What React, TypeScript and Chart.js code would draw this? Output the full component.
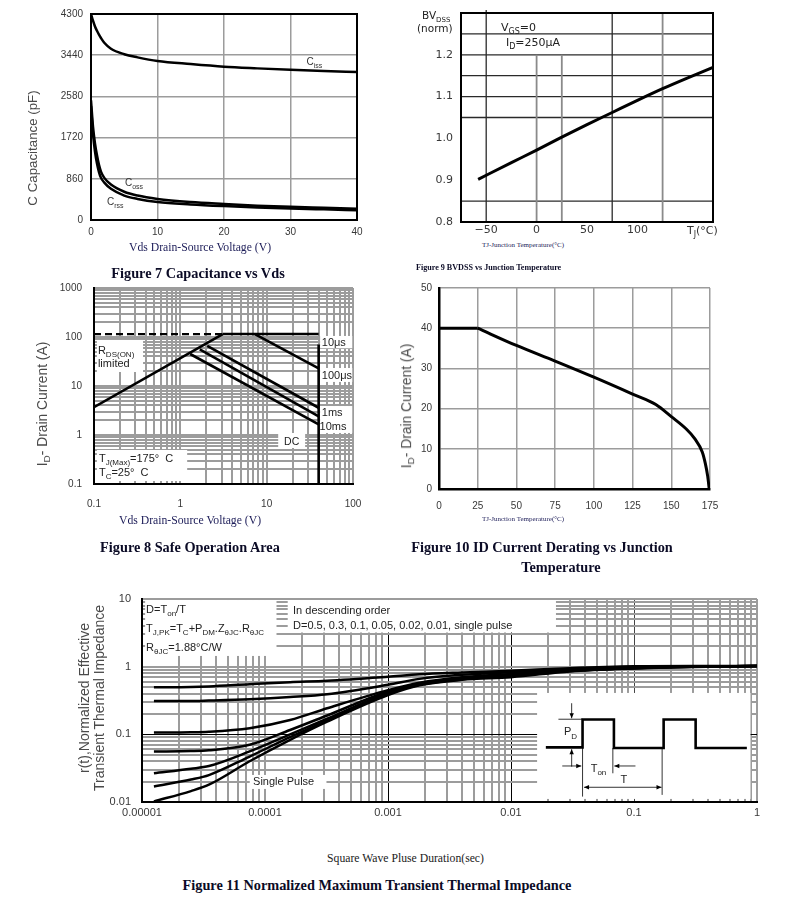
import React, { useEffect, useRef } from 'react';
import { Chart, registerables } from 'chart.js';

Chart.register(...registerables);

// ---------- fonts / colours ----------
const SANS = '"Liberation Sans", Arial, Helvetica, sans-serif';
const DEJAVU = '"DejaVu Sans", Verdana, sans-serif';
const SERIF = '"Liberation Serif", "Times New Roman", Times, serif';
const GRID = '#9c9c9c';
const INK = '#222222';
const TICK = '#383838';
const NAVY = '#1c1c58';

// ---------- Figure 7 : Capacitance vs Vds ----------
const capVds = [0, 0.3, 0.6, 0.9, 1.2, 1.5, 2, 3, 5, 7, 10, 15, 20, 25, 30, 35, 40];
const cissPf = [4300, 4160, 4040, 3950, 3870, 3800, 3700, 3575, 3460, 3395, 3320, 3255, 3200, 3165, 3135, 3110, 3090];
const cossPf = [2500, 1950, 1600, 1350, 1150, 1010, 880, 740, 590, 510, 440, 375, 335, 300, 275, 255, 235];
const crssPf = [2380, 1800, 1430, 1180, 1000, 880, 780, 650, 510, 440, 375, 325, 290, 262, 240, 222, 205];
const capXTicks = [0, 10, 20, 30, 40];
const capYTicks = [0, 860, 1720, 2580, 3440, 4300];

// ---------- Figure 9 : BVDSS vs Junction Temperature ----------
const bvTj = [-58, -25, 0, 25, 50, 75, 100, 125, 150, 175];
const bvNorm = [0.902, 0.942, 0.972, 1.003, 1.033, 1.062, 1.091, 1.119, 1.145, 1.17];
const bvXTicks = [-50, 0, 50, 100];
const bvYTicks = [0.8, 0.9, 1.0, 1.1, 1.2];

// ---------- Figure 8 : Safe Operation Area ----------
const soaRdsV = [0.1, 3.1];
const soaRdsA = [3.7, 115];
const soaPkgV = [0.1, 3.1];
const soaPkgA = [115, 115];
const soa10usV = [3.1, 40];
const soa10usA = [115, 115];
const soa100usV = [7.3, 40];
const soa100usA = [115, 23];
const soa1msV = [2.05, 40];
const soa1msA = [66, 3.6];
const soa10msV = [1.68, 40];
const soa10msA = [56, 2.4];
const soaDcV = [1.3, 40];
const soaDcA = [45, 1.65];
const soaMaxV = [40, 40];
const soaMaxA = [70, 0.1];

// ---------- Figure 10 : ID Current Derating ----------
const derFlatTj = [0, 25];
const derFlatId = [40, 40];
const derTj = [25, 50, 75, 100, 125, 140, 150, 160, 165, 170, 172, 173.5, 174.5];
const derId = [40, 35.7, 31.8, 27.8, 23.6, 21.0, 18, 14.8, 12.6, 9.2, 6.3, 3.2, 0];
const derXTicks = [0, 25, 50, 75, 100, 125, 150, 175];
const derYTicks = [0, 10, 20, 30, 40, 50];

// ---------- Figure 11 : Transient Thermal Impedance ----------
const zthT = [1.25e-5, 2.5e-5, 3.5e-5, 7.5e-5, 1.6e-4, 3.2e-4, 1e-3, 1.8e-3, 4e-3, 1e-2, 3e-2, 1e-1, 3e-1, 1];
const zthD050 = [0.495, 0.5, 0.51, 0.55, 0.59, 0.62, 0.71, 0.77, 0.82, 0.87, 0.95, 1.01, 1.02, 1.02];
const zthD030 = [0.31, 0.31, 0.315, 0.33, 0.355, 0.39, 0.54, 0.66, 0.76, 0.83, 0.92, 0.99, 1.01, 1.02];
const zthD010 = [0.106, 0.107, 0.109, 0.123, 0.163, 0.243, 0.45, 0.58, 0.7, 0.78, 0.89, 0.97, 1.01, 1.02];
const zthD005 = [0.0556, 0.0565, 0.058, 0.07, 0.116, 0.19, 0.43, 0.56, 0.68, 0.76, 0.88, 0.96, 1.0, 1.02];
const zthD002 = [0.0266, 0.031, 0.034, 0.056, 0.1, 0.17, 0.41, 0.55, 0.66, 0.74, 0.87, 0.95, 1.0, 1.02];
const zthD001 = [0.017, 0.0215, 0.025, 0.047, 0.091, 0.16, 0.4, 0.54, 0.65, 0.72, 0.86, 0.95, 1.0, 1.02];
const zthSingle = [0.0102, 0.0145, 0.018, 0.04, 0.083, 0.154, 0.38, 0.53, 0.64, 0.7, 0.85, 0.94, 0.99, 1.02];

// ---------- helpers ----------
function curve(xs: number[], ys: number[], smooth = true, width = 2.5, dash: number[] = []) {
  return {
    data: xs.map((x, i) => ({ x, y: ys[i] })),
    borderColor: '#000',
    borderWidth: width,
    borderDash: dash,
    pointRadius: 0,
    fill: false,
    tension: smooth ? 0.4 : 0,
    cubicInterpolationMode: smooth ? 'monotone' : 'default',
  };
}

function logTicks(min: number, max: number) {
  const out: number[] = [];
  for (let e = Math.round(Math.log10(min)); e < Math.round(Math.log10(max)); e++) {
    for (let k = 1; k < 10; k++) out.push(Number((k * Math.pow(10, e)).toPrecision(6)));
  }
  out.push(max);
  return out;
}
function decadeLabel(v: number) {
  const l = Math.log10(v);
  const e = Math.round(l);
  if (Math.abs(l - e) > 1e-6) return '';
  return e < 0 ? Math.pow(10, e).toFixed(-e) : String(Math.round(Math.pow(10, e)));
}
const near = (v: number, t: number) => v > 0 && Math.abs(Math.log10(v) - Math.log10(t)) < 1e-6;

const setTicks = (vals: number[]) => (s: any) => {
  s.ticks = vals.map((value) => ({ value }));
};
function zeroPad(s: any) {
  s.paddingLeft = 0;
  s.paddingRight = 0;
  s.paddingTop = 0;
  s.paddingBottom = 0;
}
const fitW = (w: number) => (s: any) => {
  s.width = w;
  zeroPad(s);
};
const fitH = (h: number) => (s: any) => {
  s.height = h;
  zeroPad(s);
};
const tickOpts = (size: number, padding: number, family = SANS, cb: (v: any) => string = (v) => String(v)) => ({
  color: TICK,
  font: { family, size },
  padding,
  autoSkip: false,
  maxRotation: 0,
  minRotation: 0,
  callback: cb,
});

const baseOptions = {
  responsive: false,
  animation: false,
  events: [],
  plugins: { legend: { display: false }, tooltip: { enabled: false }, title: { display: false } },
};

type Seg = [string, number?];
function rich(ctx: CanvasRenderingContext2D, x: number, y: number, segs: Seg[], size: number, family = SANS, color = INK, align: 'left' | 'center' = 'left') {
  ctx.save();
  ctx.fillStyle = color;
  ctx.textBaseline = 'alphabetic';
  ctx.textAlign = 'left';
  const fonts = segs.map(([, s]) => `${s ? Math.round(size * 0.7) : size}px ${family}`);
  let w = 0;
  segs.forEach(([t], i) => {
    ctx.font = fonts[i];
    w += ctx.measureText(t).width;
  });
  let cx = align === 'left' ? x : x - w / 2;
  segs.forEach(([t, s], i) => {
    ctx.font = fonts[i];
    ctx.fillText(t, cx, s ? y + size * 0.28 : y);
    cx += ctx.measureText(t).width;
  });
  ctx.restore();
}

function whiteBox(chart: any, x0: number, x1: number, y0: number, y1: number) {
  const { ctx, scales } = chart;
  const a = scales.x.getPixelForValue(x0);
  const b = scales.x.getPixelForValue(x1);
  const c = scales.y.getPixelForValue(y0);
  const d = scales.y.getPixelForValue(y1);
  ctx.save();
  ctx.fillStyle = '#fff';
  ctx.fillRect(Math.min(a, b), Math.min(c, d), Math.abs(b - a), Math.abs(d - c));
  ctx.restore();
}

function frame(chart: any, width = 2) {
  const { ctx, chartArea: a } = chart;
  ctx.save();
  ctx.strokeStyle = '#000';
  ctx.lineWidth = width;
  ctx.strokeRect(a.left, a.top, a.right - a.left, a.bottom - a.top);
  ctx.restore();
}

function seg(ctx: CanvasRenderingContext2D, x0: number, y0: number, x1: number, y1: number) {
  ctx.beginPath();
  ctx.moveTo(x0, y0);
  ctx.lineTo(x1, y1);
  ctx.stroke();
}
function arrow(ctx: CanvasRenderingContext2D, x0: number, y0: number, x1: number, y1: number, both = false) {
  seg(ctx, x0, y0, x1, y1);
  const head = (xa: number, ya: number, xb: number, yb: number) => {
    const ang = Math.atan2(yb - ya, xb - xa);
    const L = 5;
    const W = 2.2;
    ctx.beginPath();
    ctx.moveTo(xb, yb);
    ctx.lineTo(xb - L * Math.cos(ang) + W * Math.sin(ang), yb - L * Math.sin(ang) - W * Math.cos(ang));
    ctx.lineTo(xb - L * Math.cos(ang) - W * Math.sin(ang), yb - L * Math.sin(ang) + W * Math.cos(ang));
    ctx.closePath();
    ctx.fill();
  };
  head(x0, y0, x1, y1);
  if (both) head(x1, y1, x0, y0);
}

// ---------- Figure 7 ----------
const fig7Deco = {
  id: 'fig7Deco',
  afterDatasetsDraw(chart: any) {
    const { ctx, scales: { x, y } } = chart;
    frame(chart, 2);
    rich(ctx, x.getPixelForValue(32.4), y.getPixelForValue(3240), [['C'], ['iss', 1]], 10, SANS, '#333');
    rich(ctx, x.getPixelForValue(5.1), y.getPixelForValue(700), [['C'], ['oss', 1]], 10, SANS, '#333');
    rich(ctx, x.getPixelForValue(2.4), y.getPixelForValue(303), [['C'], ['rss', 1]], 10, SANS, '#333');
  },
};
function fig7Config() {
  const grid = { color: GRID, lineWidth: 1.5, drawTicks: false };
  return {
    type: 'line',
    data: { datasets: [curve(capVds, cissPf), curve(capVds, cossPf), curve(capVds, crssPf)] },
    options: {
      ...baseOptions,
      layout: { padding: { left: 11, top: 14, right: 23, bottom: 5 }, autoPadding: false },
      scales: {
        x: { type: 'linear', min: 0, max: 40, afterBuildTicks: setTicks(capXTicks), afterFit: fitH(20), grid, border: { display: false }, ticks: tickOpts(10, 6) },
        y: { type: 'linear', min: 0, max: 4300, afterBuildTicks: setTicks(capYTicks), afterFit: fitW(50), grid, border: { display: false }, ticks: tickOpts(10, 8) },
      },
    },
    plugins: [fig7Deco],
  };
}

// ---------- Figure 9 ----------
const fig9Deco = {
  id: 'fig9Deco',
  beforeDatasetsDraw(chart: any) {
    const { ctx, chartArea: a, scales: { x, y } } = chart;
    ctx.save();
    ctx.strokeStyle = '#2a2a2a';
    ctx.lineWidth = 1.3;
    [0.85, 1.05, 1.1, 1.15, 1.2, 1.25].forEach((v) => {
      const py = y.getPixelForValue(v);
      seg(ctx, a.left, py, a.right, py);
    });
    const vlines: [number, number, string, number][] = [
      [-50, a.top - 3, '#2a2a2a', 1.3],
      [0, y.getPixelForValue(1.2), '#8a8a8a', 1.8],
      [25, y.getPixelForValue(1.2), '#8a8a8a', 1.8],
      [75, a.top, '#2a2a2a', 1.3],
      [125, a.top, '#8a8a8a', 1.8],
    ];
    vlines.forEach(([v, top, col, w]) => {
      ctx.strokeStyle = col;
      ctx.lineWidth = w;
      const px = x.getPixelForValue(v);
      seg(ctx, px, top, px, a.bottom);
    });
    ctx.restore();
  },
  afterDatasetsDraw(chart: any) {
    const { ctx, chartArea: a, scales: { x, y } } = chart;
    frame(chart, 2);
    rich(ctx, x.getPixelForValue(-35.3), y.getPixelForValue(1.258), [['V'], ['GS', 1], ['=0']], 11, DEJAVU, INK);
    rich(ctx, x.getPixelForValue(-30.4), y.getPixelForValue(1.222), [['I'], ['D', 1], ['=250μA']], 11, DEJAVU, INK);
    rich(ctx, a.left - 39, a.top + 6, [['BV'], ['DSS', 1]], 10.5, DEJAVU, INK);
    rich(ctx, a.left - 44, a.top + 19, [['(norm)']], 10.5, DEJAVU, INK);
    rich(ctx, a.right - 26, a.bottom + 12, [['T'], ['J', 1], ['(°C)']], 11, DEJAVU, '#333');
  },
};
function fig9Config() {
  const grid = { display: false, drawTicks: false };
  return {
    type: 'line',
    data: { datasets: [curve(bvTj, bvNorm, true, 3)] },
    options: {
      ...baseOptions,
      layout: { padding: { left: 16, top: 13, right: 22, bottom: 2 }, autoPadding: false },
      scales: {
        x: {
          type: 'linear', min: -75, max: 175, afterBuildTicks: setTicks(bvXTicks), afterFit: fitH(16), grid, border: { display: false },
          ticks: tickOpts(11, 1.5, DEJAVU, (v) => (v < 0 ? '\u2212' + Math.abs(v) : String(v))),
        },
        y: {
          type: 'linear', min: 0.8, max: 1.3, afterBuildTicks: setTicks(bvYTicks), afterFit: fitW(50), grid, border: { display: false },
          ticks: tickOpts(11, 8, DEJAVU, (v) => Number(v).toFixed(1)),
        },
      },
    },
    plugins: [fig9Deco],
  };
}

// ---------- Figure 8 ----------
const fig8Deco = {
  id: 'fig8Deco',
  beforeDatasetsDraw(chart: any) {
    whiteBox(chart, 0.108, 0.37, 19.3, 87);
    whiteBox(chart, 0.108, 1.2, 0.115, 0.494);
    whiteBox(chart, 13.6, 27.9, 0.543, 1.1);
    whiteBox(chart, 41.6, 98, 59, 105);
    whiteBox(chart, 41.6, 98, 12.1, 23.3);
    whiteBox(chart, 41.6, 98, 1.1, 3.9);
  },
  afterDatasetsDraw(chart: any) {
    const { ctx, scales: { x, y } } = chart;
    const P = (vx: number, vy: number): [number, number] => [x.getPixelForValue(vx), y.getPixelForValue(vy)];
    rich(ctx, ...P(0.111, 45), [['R'], ['DS(ON)', 1]], 11);
    rich(ctx, ...P(0.111, 24.4), [['limited']], 11);
    rich(ctx, ...P(0.114, 0.281), [['T'], ['J(Max)', 1], ['=175°  C']], 11);
    rich(ctx, ...P(0.114, 0.146), [['T'], ['C', 1], ['=25°  C']], 11);
    rich(ctx, ...P(19.5, 0.625), [['DC']], 10.5, SANS, INK, 'center');
    rich(ctx, ...P(43.5, 65.5), [['10μs']], 11);
    rich(ctx, ...P(43.5, 13.9), [['100μs']], 11);
    rich(ctx, ...P(43.5, 2.39), [['1ms']], 11);
    rich(ctx, ...P(41, 1.265), [['10ms']], 11);
  },
};
function fig8Config() {
  const grid = { color: GRID, lineWidth: 2, drawTicks: false };
  return {
    type: 'line',
    data: {
      datasets: [
        curve(soaPkgV, soaPkgA, false, 2.2, [7, 4]),
        curve(soaRdsV, soaRdsA, false, 2.6),
        curve(soa10usV, soa10usA, false, 2.6),
        curve(soa100usV, soa100usA, false, 2.6),
        curve(soa1msV, soa1msA, false, 2.6),
        curve(soa10msV, soa10msA, false, 2.6),
        curve(soaDcV, soaDcA, false, 2.6),
        curve(soaMaxV, soaMaxA, false, 2.6),
      ],
    },
    options: {
      ...baseOptions,
      layout: { padding: { left: 14, top: 8, right: 27, bottom: 5 }, autoPadding: false },
      scales: {
        x: { type: 'logarithmic', min: 0.1, max: 100, afterBuildTicks: setTicks(logTicks(0.1, 100)), afterFit: fitH(26), grid, border: { color: '#000', width: 2 }, ticks: tickOpts(10, 14, SANS, (v) => decadeLabel(Number(v))) },
        y: { type: 'logarithmic', min: 0.1, max: 1000, afterBuildTicks: setTicks(logTicks(0.1, 1000)), afterFit: fitW(40), grid, border: { color: '#000', width: 2 }, ticks: tickOpts(10, 12, SANS, (v) => decadeLabel(Number(v))) },
      },
    },
    plugins: [fig8Deco],
  };
}

// ---------- Figure 10 ----------
function fig10Config() {
  const grid = { color: GRID, lineWidth: 1.5, drawTicks: false };
  return {
    type: 'line',
    data: { datasets: [curve(derFlatTj, derFlatId, false, 3), curve(derTj, derId, true, 3)] },
    options: {
      ...baseOptions,
      layout: { padding: { left: 6, top: 8, right: 30, bottom: 2 }, autoPadding: false },
      scales: {
        x: { type: 'linear', min: 0, max: 175, afterBuildTicks: setTicks(derXTicks), afterFit: fitH(24), grid, border: { color: '#000', width: 2.5 }, ticks: tickOpts(10, 11) },
        y: { type: 'linear', min: 0, max: 50, afterBuildTicks: setTicks(derYTicks), afterFit: fitW(38), grid, border: { color: '#000', width: 2.5 }, ticks: tickOpts(10, 7) },
      },
    },
  };
}

// ---------- Figure 11 ----------
const insetPulse: [number, number][] = [
  [0.041, 0.514], [0.213, 0.514], [0.213, 0.25], [0.36, 0.25], [0.36, 0.519], [0.593, 0.519],
  [0.593, 0.25], [0.743, 0.25], [0.743, 0.519], [0.983, 0.519],
];
const fig11Deco = {
  id: 'fig11Deco',
  beforeDatasetsDraw(chart: any) {
    whiteBox(chart, 1.06e-5, 1.24e-4, 1.44, 9.66);
    whiteBox(chart, 1.53e-4, 0.0232, 3.2, 9.66);
    whiteBox(chart, 0.0163, 0.885, 0.0111, 0.409);
    whiteBox(chart, 7.52e-5, 3.16e-4, 0.0156, 0.0251);
  },
  afterDatasetsDraw(chart: any) {
    const { ctx, scales: { x, y } } = chart;
    const P = (vx: number, vy: number): [number, number] => [x.getPixelForValue(vx), y.getPixelForValue(vy)];
    rich(ctx, ...P(1.08e-5, 6.21), [['D=T'], ['on', 1], ['/T']], 11);
    rich(ctx, ...P(1.08e-5, 3.26), [['T'], ['J,PK', 1], ['=T'], ['C', 1], ['+P'], ['DM', 1], ['.Z'], ['θJC', 1], ['.R'], ['θJC', 1]], 11);
    rich(ctx, ...P(1.08e-5, 1.71), [['R'], ['θJC', 1], ['=1.88°C/W']], 11);
    rich(ctx, ...P(1.69e-4, 6.0), [['In descending order']], 11);
    rich(ctx, ...P(1.69e-4, 3.65), [['D=0.5, 0.3, 0.1, 0.05, 0.02, 0.01, single pulse']], 11);
    rich(ctx, ...P(8.0e-5, 0.0176), [['Single Pulse']], 11);

    // inset: pulse-train schematic
    const x0 = x.getPixelForValue(0.0163);
    const x1 = x.getPixelForValue(0.885);
    const y0 = y.getPixelForValue(0.409);
    const y1 = y.getPixelForValue(0.0111);
    const w = x1 - x0;
    const h = y1 - y0;
    const X = (f: number) => x0 + f * w;
    const Y = (f: number) => y0 + f * h;
    ctx.save();
    ctx.strokeStyle = '#000';
    ctx.fillStyle = '#000';
    ctx.lineWidth = 2.6;
    ctx.beginPath();
    insetPulse.forEach(([fx, fy], i) => (i ? ctx.lineTo(X(fx), Y(fy)) : ctx.moveTo(X(fx), Y(fy))));
    ctx.stroke();
    ctx.lineWidth = 0.8;
    seg(ctx, X(0.1), Y(0.248), X(0.213), Y(0.248));
    arrow(ctx, X(0.162), Y(0.097), X(0.162), Y(0.239));
    arrow(ctx, X(0.162), Y(0.695), X(0.162), Y(0.531));
    seg(ctx, X(0.213), Y(0.514), X(0.213), Y(0.978));
    seg(ctx, X(0.355), Y(0.519), X(0.355), Y(0.758));
    seg(ctx, X(0.586), Y(0.519), X(0.586), Y(0.962));
    arrow(ctx, X(0.118), Y(0.689), X(0.207), Y(0.689));
    arrow(ctx, X(0.461), Y(0.689), X(0.362), Y(0.689));
    arrow(ctx, X(0.22), Y(0.89), X(0.583), Y(0.89), true);
    ctx.restore();
    rich(ctx, X(0.126), Y(0.401), [['P'], ['D', 1]], 11);
    rich(ctx, X(0.251), Y(0.745), [['T'], ['on', 1]], 11);
    rich(ctx, X(0.391), Y(0.849), [['T']], 11);
  },
};
function fig11Config() {
  const xSpecial = (v: number) => near(v, 1e-3) || near(v, 1e-2) || near(v, 0.1);
  return {
    type: 'line',
    data: {
      datasets: [
        curve(zthT, zthD050), curve(zthT, zthD030), curve(zthT, zthD010), curve(zthT, zthD005),
        curve(zthT, zthD002), curve(zthT, zthD001), curve(zthT, zthSingle),
      ],
    },
    options: {
      ...baseOptions,
      layout: { padding: { left: 7, top: 9, right: 33, bottom: 1 }, autoPadding: false },
      scales: {
        x: {
          type: 'logarithmic', min: 1e-5, max: 1, afterBuildTicks: setTicks(logTicks(1e-5, 1)), afterFit: fitH(22),
          grid: {
            drawTicks: false,
            color: (c: any) => { const v = c.tick ? c.tick.value : 0; return near(v, 0.1) ? '#444' : xSpecial(v) ? '#000' : GRID; },
            lineWidth: (c: any) => (xSpecial(c.tick ? c.tick.value : 0) ? 1 : 2),
          },
          border: { color: '#000', width: 2 },
          ticks: tickOpts(11, 4, SANS, (v) => decadeLabel(Number(v))),
        },
        y: {
          type: 'logarithmic', min: 0.01, max: 10, afterBuildTicks: setTicks(logTicks(0.01, 10)), afterFit: fitW(50),
          grid: {
            drawTicks: false,
            color: (c: any) => (near(c.tick ? c.tick.value : 0, 0.1) ? '#000' : GRID),
            lineWidth: (c: any) => (near(c.tick ? c.tick.value : 0, 0.1) ? 1 : 2),
          },
          border: { color: '#000', width: 2 },
          ticks: tickOpts(11, 11, SANS, (v) => decadeLabel(Number(v))),
        },
      },
    },
    plugins: [fig11Deco],
  };
}

// ---------- components ----------
function ChartCanvas({ left, top, width, height, config }: { left: number; top: number; width: number; height: number; config: () => any }) {
  const ref = useRef<HTMLCanvasElement>(null);
  useEffect(() => {
    if (!ref.current) return;
    const chart = new Chart(ref.current, config());
    return () => chart.destroy();
  }, []);
  return <canvas ref={ref} width={width} height={height} style={{ position: 'absolute', left, top, width, height }} />;
}

function Txt({ x, y, size, family = SANS, color = INK, bold = false, rotate = false, anchor = 'center', children }: any) {
  const tx = anchor === 'left' ? '0' : '-50%';
  return (
    <div
      style={{
        position: 'absolute', left: x, top: y,
        transform: `translate(${tx},-50%)${rotate ? ' rotate(-90deg)' : ''}`,
        fontSize: size, fontFamily: family, color, fontWeight: bold ? 700 : 400,
        whiteSpace: 'nowrap', lineHeight: 1,
      }}
    >
      {children}
    </div>
  );
}
const Sub = ({ children }: any) => <span style={{ fontSize: '0.72em', position: 'relative', top: '0.28em' }}>{children}</span>;

export default function App() {
  const CAP = '#0b0b26';
  return (
    <div style={{ position: 'absolute', left: 0, top: 0, width: 790, height: 922, background: '#fff', overflow: 'hidden' }}>
      <ChartCanvas left={30} top={0} width={350} height={245} config={fig7Config} />
      <ChartCanvas left={395} top={0} width={340} height={240} config={fig9Config} />
      <ChartCanvas left={40} top={280} width={340} height={235} config={fig8Config} />
      <ChartCanvas left={395} top={280} width={345} height={235} config={fig10Config} />
      <ChartCanvas left={85} top={590} width={705} height={235} config={fig11Config} />

      <Txt x={33} y={148} size={13.3} color="#4a4a4a" rotate>C Capacitance (pF)</Txt>
      <Txt x={200} y={248} size={11.7} family={SERIF} color={NAVY}>Vds Drain-Source Voltage (V)</Txt>
      <Txt x={198} y={272.5} size={14.3} family={SERIF} color={CAP} bold>Figure 7 Capacitance vs Vds</Txt>

      <Txt x={523} y={245} size={7} family={SERIF} color={NAVY}>TJ-Junction Temperature(°C)</Txt>
      <Txt x={416} y={268} size={8.1} family={SERIF} color={CAP} bold anchor="left">Figure 9 BVDSS vs Junction Temperature</Txt>

      <Txt x={43} y={404} size={13.8} color="#4a4a4a" rotate>I<Sub>D</Sub>- Drain Current (A)</Txt>
      <Txt x={190} y={520.5} size={11.7} family={SERIF} color={NAVY}>Vds Drain-Source Voltage (V)</Txt>
      <Txt x={190} y={546.5} size={14.3} family={SERIF} color={CAP} bold>Figure 8 Safe Operation Area</Txt>

      <Txt x={407} y={406} size={13.8} color="#4a4a4a" rotate>I<Sub>D</Sub>- Drain Current (A)</Txt>
      <Txt x={523} y={519} size={7} family={SERIF} color={NAVY}>TJ-Junction Temperature(°C)</Txt>
      <Txt x={542} y={546.5} size={14.3} family={SERIF} color={CAP} bold>Figure 10 ID Current Derating vs Junction</Txt>
      <Txt x={561} y={567.3} size={14.3} family={SERIF} color={CAP} bold>Temperature</Txt>

      <Txt x={84} y={698} size={14} color="#4a4a4a" rotate>r(t),Normalized Effective</Txt>
      <Txt x={99} y={698} size={14} color="#4a4a4a" rotate>Transient Thermal Impedance</Txt>
      <Txt x={405.5} y={859} size={11.7} family={SERIF} color="#1a1a1a">Square Wave Pluse Duration(sec)</Txt>
      <Txt x={377} y={885} size={14.3} family={SERIF} color={CAP} bold>Figure 11 Normalized Maximum Transient Thermal Impedance</Txt>
    </div>
  );
}
